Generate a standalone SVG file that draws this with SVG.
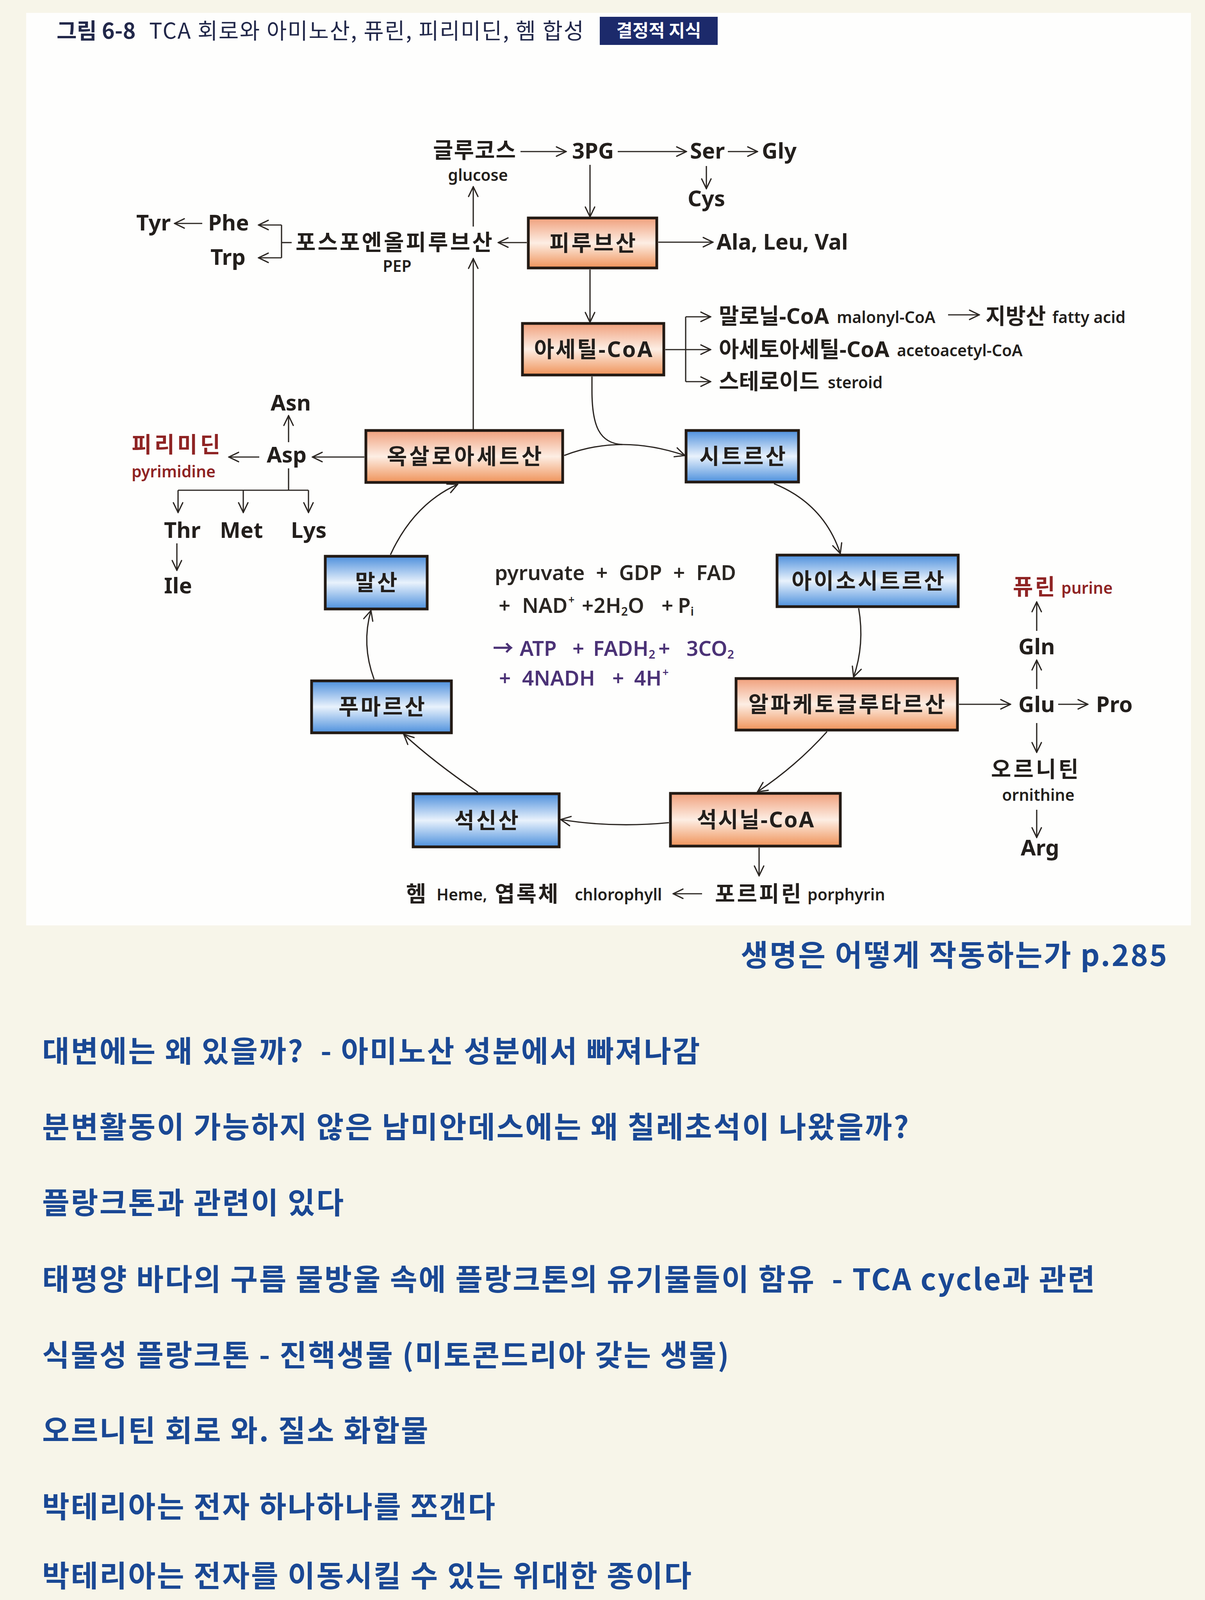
<svg xmlns="http://www.w3.org/2000/svg" width="3086" height="4364" viewBox="0 0 3086 4364">
<style>
.lbl{font-family:'Noto Sans','Noto Sans CJK KR',sans-serif;font-weight:700;font-size:56px;fill:#231f1c}
.k{letter-spacing:5px}
.sm{font-family:'Noto Sans','Noto Sans CJK KR',sans-serif;font-weight:600;font-size:41px;fill:#231f1c}
.red{fill:#8f2424}
.eq{font-family:'Noto Sans','Noto Sans CJK KR',sans-serif;font-weight:600;font-size:53px;fill:#2a2622}
.pur{fill:#4b3276}
.box{stroke:#231a14;stroke-width:7}
.ln{fill:none;stroke:#2b2622;stroke-width:3.2}
.ttl{font-family:'Noto Sans CJK KR',sans-serif;font-size:56px;fill:#22284a}
.note{font-family:'Noto Sans CJK KR',sans-serif;font-weight:700;font-size:76px;letter-spacing:3.5px;fill:#1a4894}
</style>
<defs>
<linearGradient id="og" x1="0" y1="0" x2="0" y2="1">
<stop offset="0" stop-color="#f0a07c"/>
<stop offset="0.5" stop-color="#fdeee4"/>
<stop offset="1" stop-color="#ef935a"/>
</linearGradient>
<linearGradient id="bg" x1="0" y1="0" x2="0" y2="1">
<stop offset="0" stop-color="#4d8fdc"/>
<stop offset="0.5" stop-color="#e9f2fc"/>
<stop offset="1" stop-color="#4e91dd"/>
</linearGradient>
<marker id="ah" viewBox="0 0 30 30" refX="28" refY="15" markerWidth="30" markerHeight="30" markerUnits="userSpaceOnUse" orient="auto">
<path d="M3,3 L28,15 L3,27" fill="none" stroke="#2b2622" stroke-width="3.2" stroke-linecap="round"/>
</marker>
</defs>
<rect x="0" y="0" width="3086" height="4364" fill="#f7f5e9"/>
<rect x="67" y="33" width="2983" height="2336" fill="#fefefd"/>

<g id="title">
<text x="145" y="99" class="ttl" font-weight="700">그림 6-8</text>
<text x="382" y="99" class="ttl" letter-spacing="2.4">TCA 회로와 아미노산, 퓨린, 피리미딘, 헴 합성</text>
<rect x="1536" y="43" width="302" height="72" fill="#1c2a6b"/>
<text x="1687" y="95" text-anchor="middle" font-family="'Noto Sans CJK KR',sans-serif" font-weight="700" font-size="45" fill="#ffffff">결정적 지식</text>
</g>

<g id="connectors">
<line class="ln" x1="1333" y1="388" x2="1450" y2="388" marker-end="url(#ah)"/>
<line class="ln" x1="1582" y1="388" x2="1758" y2="388" marker-end="url(#ah)"/>
<line class="ln" x1="1864" y1="388" x2="1940" y2="388" marker-end="url(#ah)"/>
<line class="ln" x1="1809" y1="425" x2="1809" y2="483" marker-end="url(#ah)"/>
<line class="ln" x1="1511" y1="422" x2="1511" y2="555" marker-end="url(#ah)"/>
<line class="ln" x1="1686" y1="620" x2="1826" y2="620" marker-end="url(#ah)"/>
<line class="ln" x1="1349" y1="621" x2="1276" y2="621" marker-end="url(#ah)"/>
<line class="ln" x1="1212" y1="580" x2="1212" y2="478" marker-end="url(#ah)"/>
<line class="ln" x1="1212" y1="1099" x2="1212" y2="662" marker-end="url(#ah)"/>
<line class="ln" x1="747" y1="621" x2="721" y2="621"/>
<line class="ln" x1="721" y1="576" x2="721" y2="660"/>
<line class="ln" x1="721" y1="576" x2="662" y2="576" marker-end="url(#ah)"/>
<line class="ln" x1="721" y1="660" x2="662" y2="660" marker-end="url(#ah)"/>
<line class="ln" x1="518" y1="572" x2="447" y2="572" marker-end="url(#ah)"/>
<line class="ln" x1="1511" y1="690" x2="1511" y2="825" marker-end="url(#ah)"/>
<line class="ln" x1="1704" y1="895" x2="1756" y2="895"/>
<line class="ln" x1="1756" y1="811" x2="1756" y2="977"/>
<line class="ln" x1="1756" y1="811" x2="1820" y2="811" marker-end="url(#ah)"/>
<line class="ln" x1="1756" y1="895" x2="1820" y2="895" marker-end="url(#ah)"/>
<line class="ln" x1="1756" y1="977" x2="1820" y2="977" marker-end="url(#ah)"/>
<line class="ln" x1="2428" y1="806" x2="2508" y2="806" marker-end="url(#ah)"/>
<path class="ln" d="M1516,964 L1516,1000 C1516,1090 1535,1135 1594,1138"/>
<path class="ln" d="M1445,1166 Q1590,1110 1754,1166" marker-end="url(#ah)"/>
<path class="ln" d="M1982,1238 Q2110,1290 2152,1417" marker-end="url(#ah)"/>
<path class="ln" d="M2199,1557 Q2215,1650 2186,1733" marker-end="url(#ah)"/>
<path class="ln" d="M2118,1873 Q2040,1960 1940,2027" marker-end="url(#ah)"/>
<path class="ln" d="M1713,2106 Q1570,2120 1436,2098" marker-end="url(#ah)"/>
<path class="ln" d="M1224,2028 Q1110,1950 1034,1880" marker-end="url(#ah)"/>
<path class="ln" d="M958,1739 Q925,1650 950,1563" marker-end="url(#ah)"/>
<path class="ln" d="M1000,1420 Q1060,1290 1172,1240" marker-end="url(#ah)"/>
<line class="ln" x1="933" y1="1170" x2="800" y2="1170" marker-end="url(#ah)"/>
<line class="ln" x1="664" y1="1170" x2="586" y2="1170" marker-end="url(#ah)"/>
<line class="ln" x1="739" y1="1132" x2="739" y2="1064" marker-end="url(#ah)"/>
<line class="ln" x1="739" y1="1199" x2="739" y2="1255"/>
<line class="ln" x1="456" y1="1255" x2="790" y2="1255"/>
<line class="ln" x1="456" y1="1255" x2="456" y2="1312" marker-end="url(#ah)"/>
<line class="ln" x1="623" y1="1255" x2="623" y2="1312" marker-end="url(#ah)"/>
<line class="ln" x1="790" y1="1255" x2="790" y2="1312" marker-end="url(#ah)"/>
<line class="ln" x1="453" y1="1391" x2="453" y2="1460" marker-end="url(#ah)"/>
<line class="ln" x1="2456" y1="1803" x2="2588" y2="1803" marker-end="url(#ah)"/>
<line class="ln" x1="2710" y1="1803" x2="2786" y2="1803" marker-end="url(#ah)"/>
<line class="ln" x1="2655" y1="1764" x2="2655" y2="1690" marker-end="url(#ah)"/>
<line class="ln" x1="2655" y1="1615" x2="2655" y2="1541" marker-end="url(#ah)"/>
<line class="ln" x1="2655" y1="1851" x2="2655" y2="1926" marker-end="url(#ah)"/>
<line class="ln" x1="2655" y1="2073" x2="2655" y2="2144" marker-end="url(#ah)"/>
<line class="ln" x1="1944" y1="2170" x2="1944" y2="2242" marker-end="url(#ah)"/>
<line class="ln" x1="1798" y1="2288" x2="1724" y2="2288" marker-end="url(#ah)"/>
</g>

<g id="glucose"><text x="1109" y="404" class="lbl" letter-spacing="2">글루코스</text><text x="1224" y="463" class="sm" text-anchor="middle">glucose</text></g>
<g id="3pg"><text x="1465" y="406" class="lbl">3PG</text></g>
<g id="ser"><text x="1767" y="406" class="lbl">Ser</text></g>
<g id="gly"><text x="1951" y="406" class="lbl">Gly</text></g>
<g id="cys"><text x="1761" y="528" class="lbl">Cys</text></g>
<g id="pyruvate"><rect class="box" x="1353" y="558" width="329" height="128" fill="url(#og)"/><text x="1520" y="642" class="lbl k" text-anchor="middle">피루브산</text></g>
<g id="alaleuval"><text x="1835" y="639" class="lbl">Ala, Leu, Val</text></g>
<g id="pep"><text x="757" y="640" class="lbl k">포스포엔올피루브산</text><text x="1017" y="696" class="sm" text-anchor="middle">PEP</text></g>
<g id="tyr"><text x="349" y="590" class="lbl">Tyr</text></g>
<g id="phe"><text x="533" y="590" class="lbl">Phe</text></g>
<g id="trp"><text x="539" y="678" class="lbl">Trp</text></g>
<g id="acetylcoa"><rect class="box" x="1338" y="828" width="362" height="132" fill="url(#og)"/><text x="1521" y="914" class="lbl" letter-spacing="3.5" text-anchor="middle">아세틸-CoA</text></g>
<g id="malonyl"><text x="1841" y="829" class="lbl">말로닐-CoA</text><text x="2143" y="827" class="sm">malonyl-CoA</text></g>
<g id="fattyacid"><text x="2524" y="829" class="lbl">지방산</text><text x="2695" y="827" class="sm">fatty acid</text></g>
<g id="acetoacetyl"><text x="1841" y="914" class="lbl">아세토아세틸-CoA</text><text x="2297" y="912" class="sm">acetoacetyl-CoA</text></g>
<g id="steroid"><text x="1841" y="996" class="lbl">스테로이드</text><text x="2120" y="994" class="sm">steroid</text></g>
<g id="citrate"><rect class="box" x="1757" y="1102" width="288" height="132" fill="url(#bg)"/><text x="1904" y="1188" class="lbl k" text-anchor="middle">시트르산</text></g>
<g id="oxaloacetate"><rect class="box" x="937" y="1102" width="504" height="133" fill="url(#og)"/><text x="1192" y="1188" class="lbl" letter-spacing="6" text-anchor="middle">옥살로아세트산</text></g>
<g id="asp"><text x="683" y="1184" class="lbl">Asp</text></g>
<g id="asn"><text x="693" y="1051" class="lbl">Asn</text></g>
<g id="pyrimidine"><text x="337" y="1158" class="lbl red" letter-spacing="7">피리미딘</text><text x="337" y="1222" class="sm red">pyrimidine</text></g>
<g id="thr"><text x="420" y="1377" class="lbl">Thr</text></g>
<g id="met"><text x="563" y="1377" class="lbl">Met</text></g>
<g id="lys"><text x="745" y="1377" class="lbl">Lys</text></g>
<g id="ile"><text x="420" y="1519" class="lbl">Ile</text></g>
<g id="malate"><rect class="box" x="833" y="1424" width="261" height="135" fill="url(#bg)"/><text x="966" y="1511" class="lbl k" text-anchor="middle">말산</text></g>
<g id="fumarate"><rect class="box" x="798" y="1743" width="358" height="133" fill="url(#bg)"/><text x="980" y="1829" class="lbl k" text-anchor="middle">푸마르산</text></g>
<g id="succinate"><rect class="box" x="1058" y="2032" width="374" height="136" fill="url(#bg)"/><text x="1248" y="2120" class="lbl k" text-anchor="middle">석신산</text></g>
<g id="succinylcoa"><rect class="box" x="1717" y="2031" width="435" height="135" fill="url(#og)"/><text x="1936" y="2118" class="lbl" letter-spacing="3" text-anchor="middle">석시닐-CoA</text></g>
<g id="isocitrate"><rect class="box" x="1990" y="1421" width="464" height="132" fill="url(#bg)"/><text x="2225" y="1507" class="lbl k" text-anchor="middle">아이소시트르산</text></g>
<g id="akg"><rect class="box" x="1885" y="1737" width="567" height="132" fill="url(#og)"/><text x="2171" y="1823" class="lbl k" text-anchor="middle">알파케토글루타르산</text></g>
<g id="purine"><text x="2594" y="1522" class="lbl red k">퓨린</text><text x="2718" y="1520" class="sm red">purine</text></g>
<g id="gln"><text x="2608" y="1675" class="lbl">Gln</text></g>
<g id="glu"><text x="2608" y="1823" class="lbl">Glu</text></g>
<g id="pro"><text x="2807" y="1823" class="lbl">Pro</text></g>
<g id="ornithine"><text x="2538" y="1989" class="lbl" letter-spacing="6">오르니틴</text><text x="2659" y="2050" class="sm" text-anchor="middle">ornithine</text></g>
<g id="arg"><text x="2614" y="2190" class="lbl">Arg</text></g>
<g id="heme"><text x="1040" y="2308" class="lbl">헴</text><text x="1118" y="2305" class="sm">Heme,</text><text x="1267" y="2308" class="lbl" letter-spacing="4">엽록체</text><text x="1472" y="2305" class="sm">chlorophyll</text></g>
<g id="porphyrin"><text x="1831" y="2308" class="lbl k">포르피린</text><text x="2068" y="2305" class="sm">porphyrin</text></g>

<g id="equation">
<text class="eq" y="1485" word-spacing="15"><tspan x="1267">pyruvate + GDP + FAD</tspan></text>
<text class="eq" y="1569"><tspan x="1277">+</tspan><tspan x="1337">NAD</tspan><tspan dx="2" dy="-24" font-size="28">+</tspan><tspan x="1490" dy="24">+2H</tspan><tspan dy="7" font-size="30">2</tspan><tspan dy="-7">O</tspan><tspan x="1694">+</tspan><tspan x="1736">P</tspan><tspan dy="7" font-size="30">i</tspan></text>
<text class="eq pur" y="1679"><tspan x="1262">→</tspan><tspan x="1331">ATP</tspan><tspan x="1466">+</tspan><tspan x="1519">FADH</tspan><tspan dy="7" font-size="30">2</tspan><tspan dx="8" dy="-7">+</tspan><tspan x="1758">3CO</tspan><tspan dy="7" font-size="30">2</tspan></text>
<text class="eq pur" y="1755"><tspan x="1278">+</tspan><tspan x="1337">4NADH</tspan><tspan x="1568">+</tspan><tspan x="1624">4H</tspan><tspan dx="2" dy="-24" font-size="28">+</tspan></text>
</g>

<g id="notes">
<text class="note" x="2992" y="2473" text-anchor="end">생명은 어떻게 작동하는가 p.285</text>
<text class="note" x="108" y="2719" xml:space="preserve">대변에는 왜 있을까?  - 아미노산 성분에서 빠져나감</text>
<text class="note" x="108" y="2913">분변활동이 가능하지 않은 남미안데스에는 왜 칠레초석이 나왔을까?</text>
<text class="note" x="108" y="3107">플랑크톤과 관련이 있다</text>
<text class="note" x="108" y="3303" xml:space="preserve">태평양 바다의 구름 물방울 속에 플랑크톤의 유기물들이 함유  - TCA cycle과 관련</text>
<text class="note" x="108" y="3497">식물성 플랑크톤 - 진핵생물 (미토콘드리아 갖는 생물)</text>
<text class="note" x="108" y="3690">오르니틴 회로 와. 질소 화합물</text>
<text class="note" x="108" y="3885">박테리아는 전자 하나하나를 쪼갠다</text>
<text class="note" x="108" y="4062">박테리아는 전자를 이동시킬 수 있는 위대한 종이다</text>
</g>
</svg>
